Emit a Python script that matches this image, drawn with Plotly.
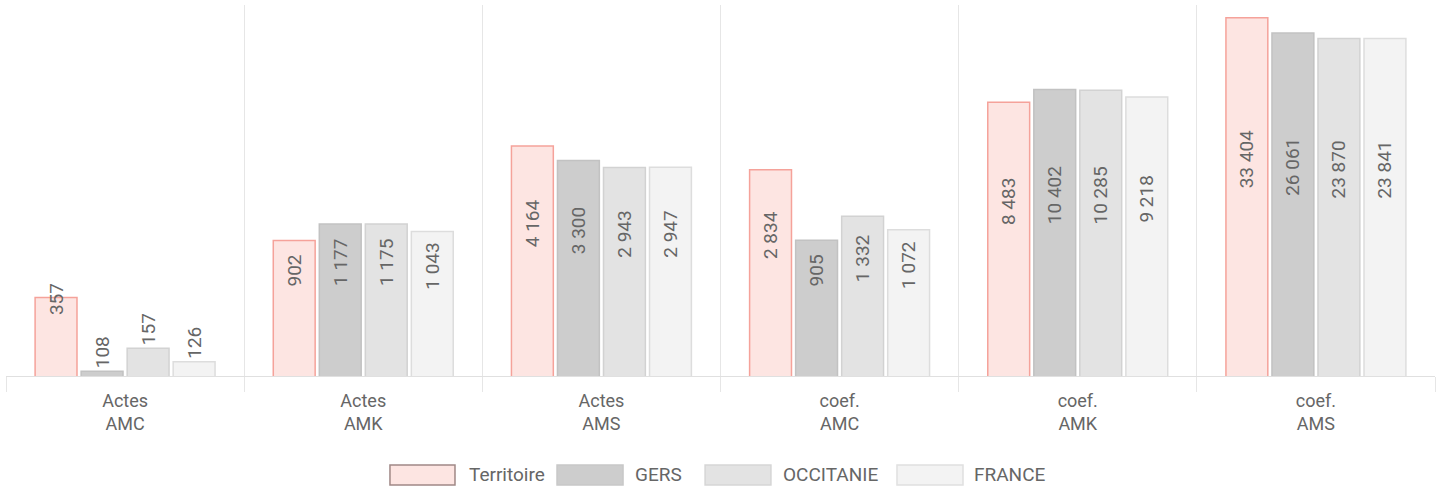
import plotly.graph_objects as go

categories = ["Actes<br>AMC", "Actes<br>AMK", "Actes<br>AMS", "coef.<br>AMC", "coef.<br>AMK", "coef.<br>AMS"]
series_names = ["Territoire", "GERS", "OCCITANIE", "FRANCE"]
territoire = [357, 902, 4164, 2834, 8483, 33404]
gers = [108, 1177, 3300, 905, 10402, 26061]
occitanie = [157, 1175, 2943, 1332, 10285, 23870]
france = [126, 1043, 2947, 1072, 9218, 23841]

values = [territoire, gers, occitanie, france]
fills = ["#fde5e2", "#cdcdcd", "#e3e3e3", "#f3f3f3"]
borders = ["#f5a29a", "#c2c2c2", "#d2d2d2", "#dddddd"]
legend_borders = ["#a08886", "#c8c8c8", "#d6d6d6", "#e0e0e0"]

FONT = "Roboto, Arial, sans-serif"
TXT = "#666666"
PAD = "\u00a0" * 16


def fmt(v):
    return f"{v:,}".replace(",", " ")


fig = go.Figure()
for name, vals, fc, bc in zip(series_names, values, fills, borders):
    inside = [v >= 300 for v in vals]
    fig.add_trace(go.Bar(
        name=name,
        x=categories,
        y=vals,
        text=[(PAD + fmt(v)) if ins else fmt(v) for v, ins in zip(vals, inside)],
        texttemplate="%{text}",
        textposition=["inside" if ins else "outside" for ins in inside],
        insidetextanchor="middle",
        textangle=-90,
        constraintext="none",
        textfont=dict(family=FONT, size=19, color=TXT),
        marker=dict(color=fc, line=dict(color=bc, width=1.5)),
        hoverinfo="skip",
        showlegend=False,
        cliponaxis=False,
    ))

# manual legend (wide swatches)
shapes = []
annotations = []
legend_items = [
    (0.2687, 0.3142, 0.3226),
    (0.3856, 0.4318, 0.4388),
    (0.4892, 0.5353, 0.5423),
    (0.6235, 0.6697, 0.6760),
]
y0, y1, ytxt = -0.2399, -0.2938, -0.2668
for (xa, xb, xt), name, fc, bc in zip(legend_items, series_names, fills, legend_borders):
    shapes.append(dict(type="rect", xref="paper", yref="paper", x0=xa, x1=xb, y0=y0, y1=y1,
                       fillcolor=fc, line=dict(color=bc, width=1.5)))
    annotations.append(dict(xref="paper", yref="paper", x=xt, y=ytxt, text=name, showarrow=False,
                            xanchor="left", yanchor="middle",
                            font=dict(family=FONT, size=19, color=TXT)))

fig.update_layout(
    width=1444, height=489,
    margin=dict(l=6, r=9, t=5, b=113),
    paper_bgcolor="white", plot_bgcolor="white",
    barmode="group",
    bargap=0.227,
    bargroupgap=0.09,
    shapes=shapes,
    annotations=annotations,
    xaxis=dict(
        type="category",
        tickson="boundaries",
        showgrid=True, gridcolor="#e6e6e6", gridwidth=1,
        ticks="outside", ticklen=15, tickcolor="#e6e6e6", tickwidth=1,
        showline=True, linecolor="#e0e0e0", linewidth=1,
        tickfont=dict(family=FONT, size=18, color=TXT),
        ticklabelstandoff=8,
    ),
    yaxis=dict(
        type="log",
        range=[2, 4.613],
        showgrid=False, showticklabels=False, zeroline=False, showline=False,
    ),
    font=dict(family=FONT, color=TXT),
)

fig.write_html("out.html", config={"displayModeBar": False},
               post_script="document.body.style.margin='0px';")
